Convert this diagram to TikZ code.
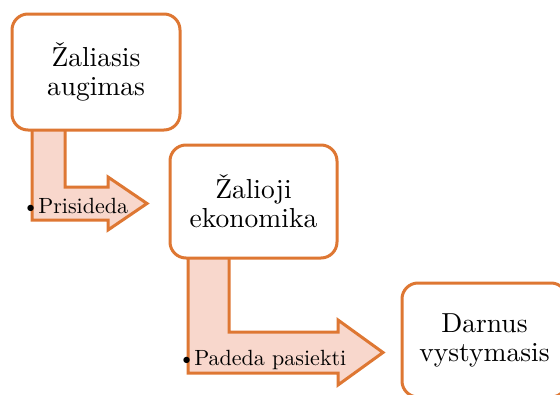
\documentclass[tikz,border=0pt]{standalone}
\usepackage{fontspec}
\setmainfont{lmroman10-regular.otf}
\definecolor{edgeorange}{HTML}{DE7733}
\definecolor{arrowfill}{HTML}{F8D7CC}
\begin{document}
\begin{tikzpicture}[x=1pt,y=-1pt,
  stagebox/.style={draw=edgeorange, line width=3pt, fill=white, rounded corners=16pt,
    minimum width=168pt, minimum height=116pt, inner sep=0pt, align=center,
    font=\fontsize{27.5}{29}\selectfont},
  bentarrow/.style={draw=edgeorange, line width=3pt, fill=arrowfill, line join=miter},
  steplabel/.style={anchor=base west, inner sep=0pt, font=\fontsize{22}{24}\selectfont}]
  \useasboundingbox (0,0) rectangle (560,394);
  \clip (0,0) rectangle (560,394);

  % bent arrows between the stages
  \draw[bentarrow] (32,128) -- (32,220) -- (108,220) -- (108,230) -- (147,203.5)
    -- (108,177) -- (108,187) -- (65,187) -- (65,128) -- cycle;
  \draw[bentarrow] (188,256) -- (188,373) -- (338,373) -- (338,385) -- (383,352.5)
    -- (338,320) -- (338,332) -- (229,332) -- (229,256) -- cycle;

  % stages
  \node[stagebox] (growth) at (96,72) {Žaliasis\\augimas};
  \node[stagebox, minimum width=167pt, minimum height=113pt] (economy) at (253.5,201.5) {Žalioji\\ekonomika};
  \node[stagebox, minimum width=165pt, minimum height=114pt] (sustain) at (484.5,340) {Darnus\\vystymasis};

  % arrow captions
  \node[steplabel] (joins) at (22,213) {\textbullet\kern-1pt Prisideda};
  \node[steplabel] (helps) at (178,365) {\textbullet\kern-1pt Padeda pasiekti};
\end{tikzpicture}
\end{document}
